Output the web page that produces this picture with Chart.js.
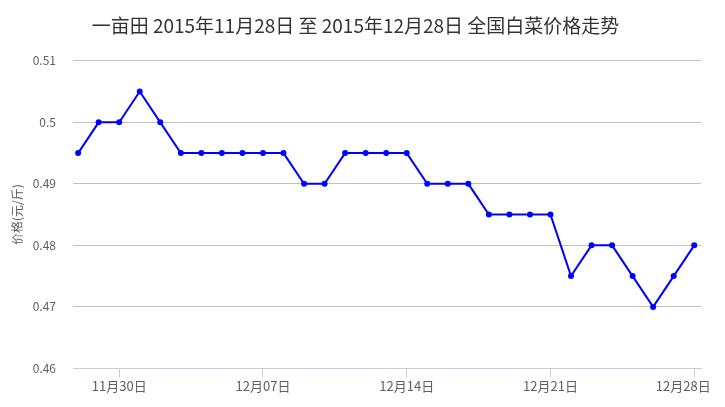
<!DOCTYPE html>
<html>
<head>
<meta charset="utf-8">
<script src="https://cdn.jsdelivr.net/npm/chart.js@4"></script>
<style>
  html, body { margin: 0; padding: 0; background: #fff; }
  #wrap { width: 725px; height: 407px; }
</style>
</head>
<body>
<div id="wrap"><canvas id="grafico"></canvas></div>
<script>
const datas = [
  "11月28日", "11月29日", "11月30日", "12月01日", "12月02日", "12月03日", "12月04日",
  "12月05日", "12月06日", "12月07日", "12月08日", "12月09日", "12月10日", "12月11日",
  "12月12日", "12月13日", "12月14日", "12月15日", "12月16日", "12月17日", "12月18日",
  "12月19日", "12月20日", "12月21日", "12月22日", "12月23日", "12月24日", "12月25日",
  "12月26日", "12月27日", "12月28日"
];

const precos = [
  0.495, 0.5, 0.5, 0.505, 0.5, 0.495, 0.495,
  0.495, 0.495, 0.495, 0.495, 0.49, 0.49, 0.495,
  0.495, 0.495, 0.495, 0.49, 0.49, 0.49, 0.485,
  0.485, 0.485, 0.485, 0.475, 0.48, 0.48, 0.475,
  0.47, 0.475, 0.48
];

// dias com rótulo no eixo x
const diasMarcados = [2, 9, 16, 23, 30];
const yTicks = [0.46, 0.47, 0.48, 0.49, 0.5, 0.51];

const fonte = "'Noto Sans CJK SC', 'Noto Sans', sans-serif";

// último rótulo do eixo x puxado para dentro, como no original
const ajusteRotulo = {
  id: "ajusteRotulo",
  beforeDraw(chart) {
    const itens = chart.scales.x.getLabelItems();
    const ultimo = itens[itens.length - 1];
    if (ultimo && !ultimo.ajustado) {
      ultimo.options.translation[0] -= 11;
      ultimo.ajustado = true;
    }
  }
};

new Chart(document.getElementById("grafico"), {
  type: "line",
  data: {
    datasets: [{
      label: "价格",
      data: precos.map((p, i) => ({ x: i, y: p })),
      borderColor: "#0000ff",
      backgroundColor: "#0000ff",
      borderWidth: 2,
      pointRadius: 3,
      pointBorderWidth: 0,
      pointHoverRadius: 4,
      tension: 0
    }]
  },
  options: {
    responsive: true,
    maintainAspectRatio: false,
    animation: false,
    layout: { padding: { left: 10, right: 24, top: 0, bottom: 12 } },
    plugins: {
      legend: { display: false },
      tooltip: { enabled: false },
      title: {
        display: true,
        text: "一亩田 2015年11月28日 至 2015年12月28日 全国白菜价格走势",
        color: "#333333",
        font: { family: fonte, size: 19, weight: "normal" },
        padding: { top: 14, bottom: 24 }
      }
    },
    scales: {
      x: {
        type: "linear",
        min: -0.25,
        max: 30.33,
        afterBuildTicks: s => { s.ticks = diasMarcados.map(v => ({ value: v })); },
        ticks: {
          callback: v => datas[v],
          color: "#606060",
          font: { family: fonte, size: 13 },
          maxRotation: 0,
          padding: 1
        },
        grid: { drawOnChartArea: false, color: "#c0d0e0", tickLength: 9 },
        border: { color: "#c0d0e0", width: 1 }
      },
      y: {
        min: 0.46,
        max: 0.51,
        afterBuildTicks: s => { s.ticks = yTicks.map(v => ({ value: v })); },
        afterFit: s => { s.width = 63; },
        ticks: {
          callback: v => String(+v.toFixed(2)),
          color: "#606060",
          font: { family: fonte, size: 12 },
          padding: 17
        },
        grid: {
          drawTicks: false,
          color: c => (c.tick && c.tick.value === 0.46) ? "rgba(0,0,0,0)" : "#c0c0c0"
        },
        border: { display: false },
        title: {
          display: true,
          text: "价格(元/斤)",
          color: "#606060",
          font: { family: fonte, size: 12 },
          padding: { top: 0, bottom: 0 }
        }
      }
    }
  },
  plugins: [ajusteRotulo]
});
</script>
</body>
</html>
